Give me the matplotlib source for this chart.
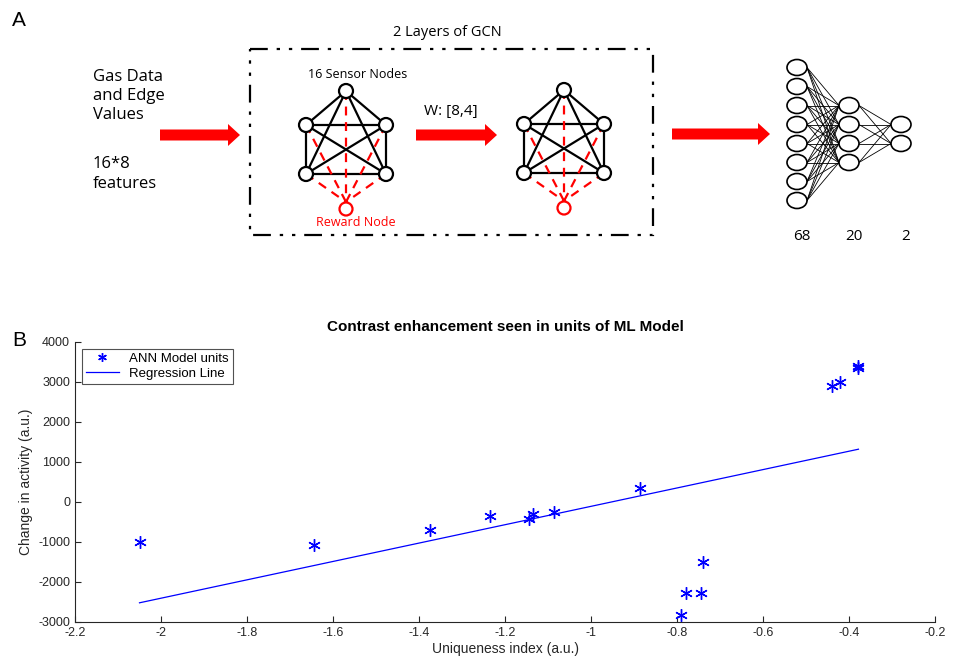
import matplotlib
matplotlib.use('Agg')
import matplotlib.pyplot as plt
from matplotlib.patches import Circle, Ellipse, Rectangle, FancyArrow

# scatter data (panel B)
uniq_idx = [-2.05, -1.645, -1.375, -1.235, -1.145, -1.135, -1.085, -0.885,
            -0.79, -0.78, -0.745, -0.74, -0.44, -0.42, -0.38, -0.378]
activity = [-1000, -1080, -700, -350, -430, -300, -250, 350,
            -2830, -2270, -2280, -1500, 2900, 3000, 3400, 3350]
reg_x = [-2.05, -0.378]
reg_y = [-2520, 1320]

xticks = [-2.2, -2, -1.8, -1.6, -1.4, -1.2, -1, -0.8, -0.6, -0.4, -0.2]
yticks = [-3000, -2000, -1000, 0, 1000, 2000, 3000, 4000]

# network diagram (panel A)
layer_labels = ['68', '20', '2']
layer_nodes = [8, 4, 2]

plt.rcParams['font.family'] = ['Liberation Sans', 'DejaVu Sans']
plt.rcParams['axes.unicode_minus'] = False

fig = plt.figure(figsize=(9.55, 6.64), dpi=100)

# ---- panel A, drawn in pixel coords
da = fig.add_axes([0, 0, 1, 1])
da.set_xlim(0, 955)
da.set_ylim(664, 0)
da.axis('off')
dfont = ['Open Sans', 'DejaVu Sans']

da.text(12, 20, 'A', fontsize=15, va='center', ha='left')
da.text(93, 96, 'Gas Data\nand Edge\nValues', fontsize=12, va='center', ha='left',
        family=dfont, linespacing=1.25)
da.text(93, 174, '16*8\nfeatures', fontsize=12, va='center', ha='left',
        family=dfont, linespacing=1.25)

def red_arrow(x0, x1, y):
    da.add_patch(FancyArrow(x0, y, x1 - x0, 0, width=11, head_width=22,
                            head_length=12, length_includes_head=True,
                            color='red', lw=0))

red_arrow(160, 240, 135)
red_arrow(416, 497, 135)
red_arrow(672, 770, 134)

da.add_patch(Rectangle((250, 49), 403, 186, fill=False, ec='black', lw=1.6,
                       ls=(0, (8, 4, 1.5, 4, 1.5, 4))))
da.text(447, 33, '2 Layers of GCN', fontsize=10.5, ha='center', va='center', family=dfont)
da.text(358, 75, '16 Sensor Nodes', fontsize=9, ha='center', va='center', family=dfont)
da.text(356, 223, 'Reward Node', fontsize=9, ha='center', va='center', family=dfont, color='red')
da.text(451, 111, 'W: [8,4]', fontsize=11, ha='center', va='center', family=dfont)

def graph(cx, cy):
    pts = [(cx, cy - 34), (cx - 40, cy), (cx + 40, cy), (cx - 40, cy + 49), (cx + 40, cy + 49)]
    rw = (cx, cy + 84)
    for i in range(5):
        for j in range(i + 1, 5):
            da.plot([pts[i][0], pts[j][0]], [pts[i][1], pts[j][1]], color='black', lw=1.6, zorder=2)
    for p in pts:
        da.plot([p[0], rw[0]], [p[1], rw[1] - 7], color='red', lw=1.6, ls=(0, (4, 3)), zorder=2)
    for p in pts:
        da.add_patch(Circle(p, 7, fc='white', ec='black', lw=1.6, zorder=3))
    da.add_patch(Circle(rw, 6.5, fc='white', ec='red', lw=1.6, zorder=3))

graph(346, 125)
graph(564, 124)

# feed forward net
col_x = [797, 849, 901]
col_y = []
for n in layer_nodes:
    top = 134 - (n - 1) * 19 / 2
    col_y.append([top + k * 19 for k in range(n)])
for c in range(2):
    for ya in col_y[c]:
        for yb in col_y[c + 1]:
            da.plot([col_x[c] + 10, col_x[c + 1] - 10], [ya, yb], color='black', lw=0.6, zorder=2)
for c in range(3):
    for yy in col_y[c]:
        da.add_patch(Ellipse((col_x[c], yy), 20, 16, fc='white', ec='black', lw=1.2, zorder=3))
for c in range(3):
    da.text(col_x[c] + 5, 237, layer_labels[c], fontsize=11, ha='center', va='center', family=dfont)

# ---- panel B
ax = fig.add_axes([75 / 955, 1 - 622 / 664, 860 / 955, 280 / 664])
ax.plot(uniq_idx, activity, ls='none', marker=(6, 2, 0), color='blue',
        markersize=9, markeredgewidth=1.0, label='ANN Model units')
ax.plot(reg_x, reg_y, '-', color='blue', lw=0.9, label='Regression Line')
ax.set_xlim(-2.2, -0.2)
ax.set_ylim(-3000, 4000)
ax.set_xticks(xticks)
ax.set_xticklabels([('%g' % t) for t in xticks])
ax.set_yticks(yticks)
ax.spines['top'].set_visible(False)
ax.spines['right'].set_visible(False)
for s in ['left', 'bottom']:
    ax.spines[s].set_color('#262626')
    ax.spines[s].set_linewidth(0.8)
ax.tick_params(direction='in', length=4, labelsize=9, colors='#262626')
ax.set_xlabel('Uniqueness index (a.u.)', fontsize=10, labelpad=2, color='#262626')
ax.set_ylabel('Change in activity (a.u.)', fontsize=10, labelpad=4, color='#262626')
ax.set_title('Contrast enhancement seen in units of ML Model', fontsize=11,
             fontweight='bold', pad=8)
leg = ax.legend(loc='upper left', fontsize=9.5, frameon=True, fancybox=False,
                borderpad=0.3, handlelength=2.5, labelspacing=0.2, markerscale=0.7,
                bbox_to_anchor=(0.0, 1.0))
leg.get_frame().set_edgecolor('#262626')
leg.get_frame().set_linewidth(0.8)
fig.text(12 / 955, 1 - 341 / 664, 'B', fontsize=15, va='center', ha='left')

fig.savefig('out.png', dpi=100)
